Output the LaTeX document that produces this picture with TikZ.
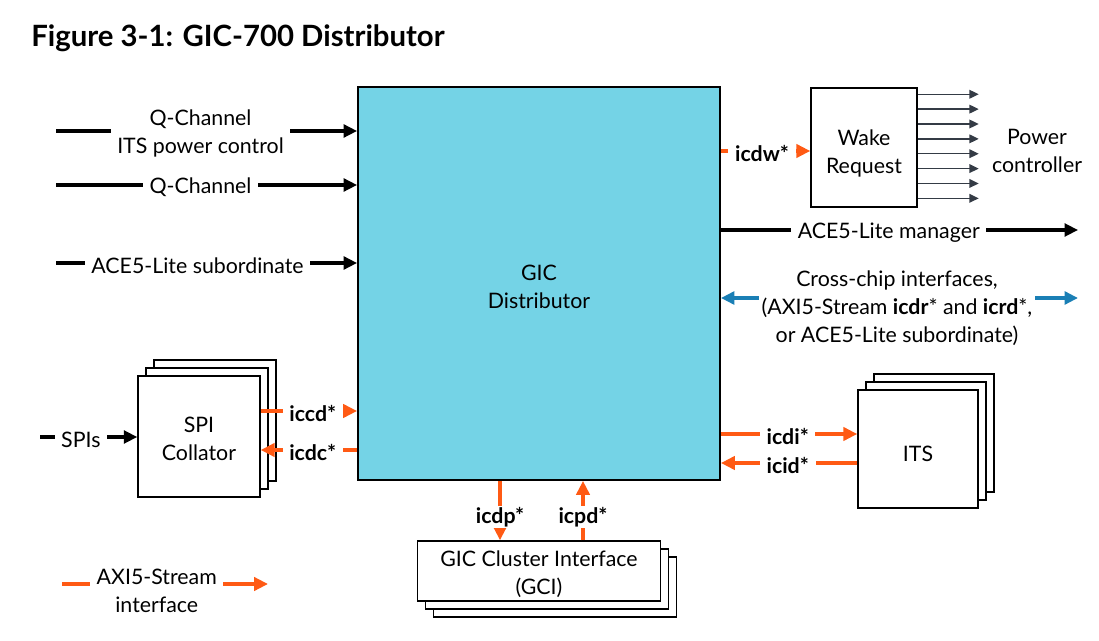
\documentclass[tikz,border=0pt]{standalone}
\usepackage{fontspec}
\setmainfont{Lato}
\usetikzlibrary{arrows.meta,shadows}
\definecolor{gicfill}{HTML}{74D3E6}
\definecolor{axiorange}{HTML}{FF5A14}
\definecolor{xchipblue}{HTML}{1A7FB5}
\definecolor{wakegray}{HTML}{343B45}
\begin{document}
\begin{tikzpicture}
[x=0.75pt,y=-0.75pt%
,every node/.style={font=\fontsize{16}{21}\selectfont,%
	align=center}%
,block/.style={draw=black,%
	line width=1.1pt,%
	fill=white,%
	inner sep=0pt}%
,stackup/.style={block,%
	double copy shadow={shadow xshift=6pt,shadow yshift=6pt,%
		draw=black,fill=white,line width=1.1pt}}%
,stackdown/.style={block,%
	double copy shadow={shadow xshift=6pt,shadow yshift=-6pt,%
		draw=black,fill=white,line width=1.1pt}}%
,tag/.style={fill=white,%
	text=black,%
	yshift=-2pt,%
	inner xsep=5pt,%
	inner ysep=1pt}%
,sig/.style={tag,%
	font=\fontsize{16}{21}\selectfont\bfseries}%
,wire/.style={line width=2.3pt,%
	-{Triangle[length=10pt,width=9.5pt]}}%
,axilink/.style={axiorange,%
	line width=2.5pt,%
	-{Triangle[length=10.5pt,width=10pt]}}%
,xlink/.style={xchipblue,%
	line width=2.5pt,%
	-{Triangle[length=10pt,width=9.5pt]}}%
,wakeline/.style={wakegray,%
	line width=1pt,%
	-{Triangle[length=7pt,width=6.5pt]}}]
\useasboundingbox (0,0) rectangle (1099,641);

% title
\node[anchor=base west,inner sep=0pt,font=\fontsize{22}{26}\selectfont\bfseries] (title)
	at (31,47) {Figure 3-1: GIC-700 Distributor};

% blocks
\node[block,fill=gicfill,line width=1.4pt,minimum width=271.5pt,minimum height=294.75pt] (gic)
	at (539,283.5) {};
\node (gictext) at (539,287) {GIC\\Distributor};
\node[block,minimum width=79.5pt,minimum height=89.25pt] (wake) at (864,147.5) {};
\node (waketext) at ([yshift=-4.5pt]wake.center) {Wake\\Request};
\node (power) at (1037,151) {Power\\controller};
\node[stackup,minimum width=90pt,minimum height=88.5pt] (its) at (918,449) {};
\node (itstext) at ([yshift=-3.5pt]its.center) {ITS};
\node[stackup,minimum width=91.5pt,minimum height=90.75pt] (spi) at (199,436.5) {};
\node (spitext) at ([yshift=-2pt]spi.center) {SPI\\Collator};
\node[stackdown,minimum width=182.25pt,minimum height=45pt] (gci) at (539,571) {};
\node (gcitext) at ([yshift=-2.5pt]gci.center) {GIC Cluster Interface\\(GCI)};

% inputs on the left
\coordinate (qitsin) at (56,131);
\coordinate (qchin) at (56,185);
\coordinate (acein) at (56,263);
\coordinate (spisin) at (40,437);
\draw[wire] (qitsin) -- node[tag,pos=.48] (qits) {Q-Channel\\ITS power control} (gic.west |- qitsin);
\draw[wire] (qchin) -- node[tag,pos=.48] (qch) {Q-Channel} (gic.west |- qchin);
\draw[wire] (acein) -- node[tag,pos=.47] (aces) {ACE5-Lite subordinate} (gic.west |- acein);
\draw[wire] (spisin) -- node[tag,pos=.42] (spis) {SPIs} (spi.west |- spisin);

% SPI collator links
\coordinate (iccdy) at (0,411);
\coordinate (icdcy) at (0,450);
\draw[axilink] (spi.east |- iccdy) -- node[sig,pos=.54] (iccd) {iccd*} (gic.west |- iccdy);
\draw[axilink] (gic.west |- icdcy) -- node[sig,pos=.46] (icdc) {icdc*} (spi.east |- icdcy);

% wake request
\coordinate (icdwy) at (0,151);
\draw[axilink] (gic.east |- icdwy) -- node[sig,pos=.46] (icdw) {icdw*} (wake.west |- icdwy);
\foreach \i in {0,...,7}
	\draw[wakeline] ([yshift=-5.25pt-\i*11.15pt]wake.north east) -- ++(61,0);

% manager and cross-chip
\coordinate (acemy) at (0,230);
\coordinate (acemout) at (1078,230);
\draw[wire] (gic.east |- acemy) -- node[tag,pos=.47] (acem) {ACE5-Lite manager} (acemout);
\node[tag,inner xsep=2pt] (xchip) at (897,306)
	{Cross-chip interfaces,\\(AXI5-Stream \textbf{icdr}* and \textbf{icrd}*,\\or ACE5-Lite subordinate)};
\coordinate (xchipy) at (0,298);
\coordinate (xchipout) at (1078,298);
\draw[xlink] (xchip.west |- xchipy) -- (gic.east |- xchipy);
\draw[xlink] (xchip.east |- xchipy) -- (xchipout);

% ITS links
\coordinate (icdiy) at (0,434);
\coordinate (icidy) at (0,463);
\draw[axilink] (gic.east |- icdiy) -- node[sig,pos=.49] (icdi) {icdi*} (its.west |- icdiy);
\draw[axilink] (its.west |- icidy) -- node[sig,pos=.51] (icid) {icid*} (gic.east |- icidy);

% GCI links
\coordinate (icdpx) at (500,0);
\coordinate (icpdx) at (583,0);
\draw[axilink] (gic.south -| icdpx) -- node[sig,pos=.56] (icdp) {icdp*} (gci.north -| icdpx);
\draw[axilink] (gci.north -| icpdx) -- node[sig,pos=.44] (icpd) {icpd*} (gic.south -| icpdx);

% legend
\coordinate (legin) at (62,584);
\coordinate (legout) at (268,584);
\draw[axilink] (legin) -- node[tag,pos=.46,yshift=-3pt] (legend) {AXI5-Stream\\interface} (legout);
\end{tikzpicture}
\end{document}
